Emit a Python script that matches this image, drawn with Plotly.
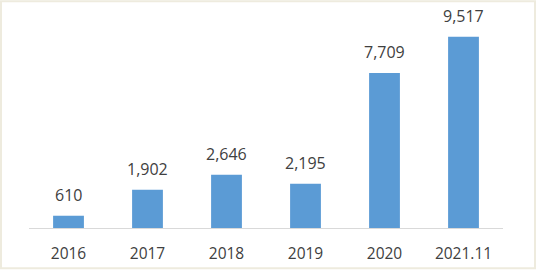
import plotly.graph_objects as go

categories = ["2016", "2017", "2018", "2019", "2020", "2021.11"]
values = [610, 1902, 2646, 2195, 7709, 9517]
value_labels = ["610", "1,902", "2,646", "2,195", "7,709", "9,517"]

W, H = 538, 276
ml, mr, mt, mb = 29, 35, 20, 44
pw = W - ml - mr
ph = H - mt - mb
FONT = "Open Sans, Liberation Sans, sans-serif"

fig = go.Figure()
fig.add_trace(go.Bar(
    x=categories, y=values,
    marker=dict(color="#5b9bd5", line=dict(width=0)),
    width=0.39,
    hoverinfo="skip",
))

# category axis: annotation x given as category index
for i, (v, t) in enumerate(zip(values, value_labels)):
    fig.add_annotation(x=i, y=v, text=t, showarrow=False, yanchor="bottom",
                       yshift=8, font=dict(family=FONT, size=16, color="#404040"))

# light outer frame
fig.add_shape(type="rect", xref="paper", yref="paper",
              x0=-(ml - 1) / pw, x1=(W - 3 - ml) / pw,
              y0=-(H - 3 - (mt + ph)) / ph, y1=(mt + ph - 1) / ph,
              line=dict(color="#eeebde", width=2), fillcolor="rgba(0,0,0,0)", layer="below")

fig.update_layout(
    width=W, height=H,
    margin=dict(l=ml, r=mr, t=mt, b=mb),
    paper_bgcolor="white", plot_bgcolor="white",
    showlegend=False,
    xaxis=dict(type="category", range=[-0.5, len(categories) - 0.5],
               showline=True, linecolor="#d9d9d9", linewidth=1, ticks="",
               tickfont=dict(family=FONT, size=15.5, color="#404040"),
               ticklabelstandoff=11, showgrid=False),
    yaxis=dict(visible=False, range=[0, 10346], showgrid=False),
)

fig.write_html("out.html")
